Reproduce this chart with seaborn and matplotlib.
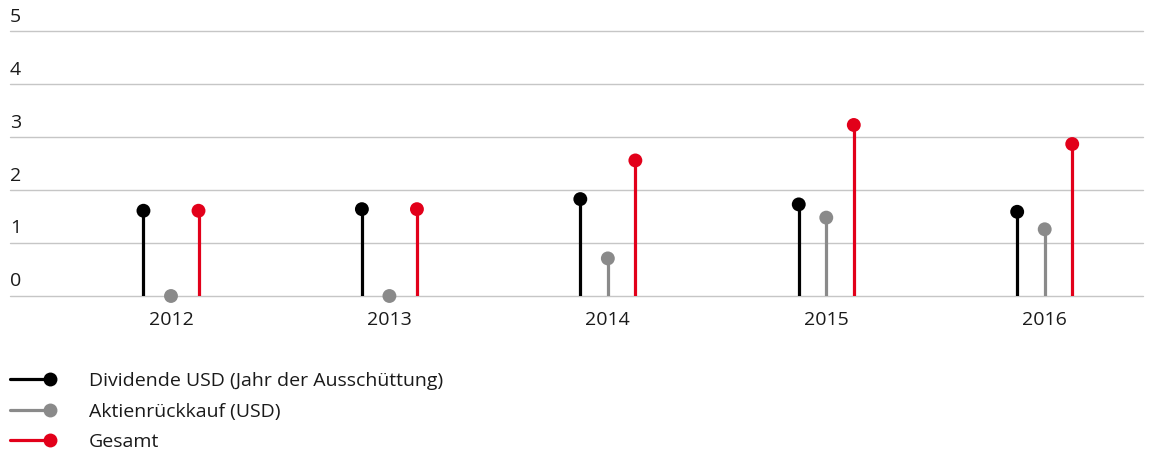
import numpy as np
import pandas as pd
import matplotlib
matplotlib.use("Agg")
import matplotlib.pyplot as plt
import seaborn as sns
from matplotlib.lines import Line2D
from matplotlib.legend_handler import HandlerBase

# Werte
jahre = ['2012', '2013', '2014', '2015', '2016']
dividende = [1.61, 1.64, 1.83, 1.73, 1.59]
rueckkauf = [0.0, 0.0, 0.71, 1.48, 1.26]
gesamt = [1.61, 1.64, 2.56, 3.23, 2.87]

serien = ['Dividende USD (Jahr der Ausschüttung)', 'Aktienrückkauf (USD)', 'Gesamt']
farben = ['#000000', '#8a8a8a', '#e2001a']
y_ticks = [0, 1, 2, 3, 4, 5]

sns.set_style('white')
plt.rcParams['font.family'] = ['Open Sans', 'DejaVu Sans']

df = pd.DataFrame({
    'Jahr': jahre * 3,
    'Serie': [s for s in serien for _ in jahre],
    'Wert': dividende + rueckkauf + gesamt,
})
versatz = {serien[0]: -0.126, serien[1]: 0.0, serien[2]: 0.126}
df['x'] = df['Jahr'].map({j: i for i, j in enumerate(jahre)}) + df['Serie'].map(versatz)

fig = plt.figure(figsize=(11.51, 4.58), dpi=100)
ax = fig.add_axes([10 / 1151, 1 - 296 / 458, 1133 / 1151, 296 / 458])

# Gitterlinien mit Beschriftung links oberhalb
for t in y_ticks:
    ax.axhline(t, color='#c6c6c6', lw=1.0, zorder=0, clip_on=False)
    ax.annotate(str(t), xy=(0, t), xycoords=('axes fraction', 'data'),
                xytext=(0, 4), textcoords='offset points',
                ha='left', va='bottom', fontsize=14, color='#1a1a1a')

# Stiele + Punkte
for s, c in zip(serien, farben):
    d = df[df['Serie'] == s]
    ax.vlines(d['x'], 0, d['Wert'], color=c, lw=2.3, zorder=2)
sns.scatterplot(data=df, x='x', y='Wert', hue='Serie', palette=dict(zip(serien, farben)),
                s=100, edgecolor='none', legend=False, ax=ax, zorder=3, clip_on=False)

ax.set_xlim(-0.737, 4.45)
ax.set_ylim(0, 5.59)
ax.set_xticks(range(len(jahre)))
ax.set_xticklabels(jahre, fontsize=14, color='#1a1a1a')
ax.set_yticks([])
ax.tick_params(axis='x', length=0, pad=11)
ax.set_xlabel('')
ax.set_ylabel('')
sns.despine(ax=ax, left=True, bottom=True, top=True, right=True)


class StielHandler(HandlerBase):
    def create_artists(self, legend, orig_handle, xdescent, ydescent, width, height,
                       fontsize, trans):
        y = height / 2 - ydescent
        c = orig_handle.get_color()
        linie = Line2D([-xdescent, width - xdescent - 5], [y, y], color=c, lw=2.3,
                       transform=trans)
        punkt = Line2D([width - xdescent - 5], [y], marker='o', ms=10, color=c,
                       markeredgewidth=0, linestyle='none', transform=trans)
        return [linie, punkt]


handles = [Line2D([], [], color=c) for c in farben]
fig.legend(handles, serien, handler_map={Line2D: StielHandler()},
           loc='upper left', bbox_to_anchor=(10 / 1151, 1 - 372 / 458),
           frameon=False, fontsize=14, handlelength=2.4, handletextpad=1.65,
           labelspacing=0.65, borderpad=0, borderaxespad=0, labelcolor='#1a1a1a')

fig.savefig('out.png', dpi=100)
